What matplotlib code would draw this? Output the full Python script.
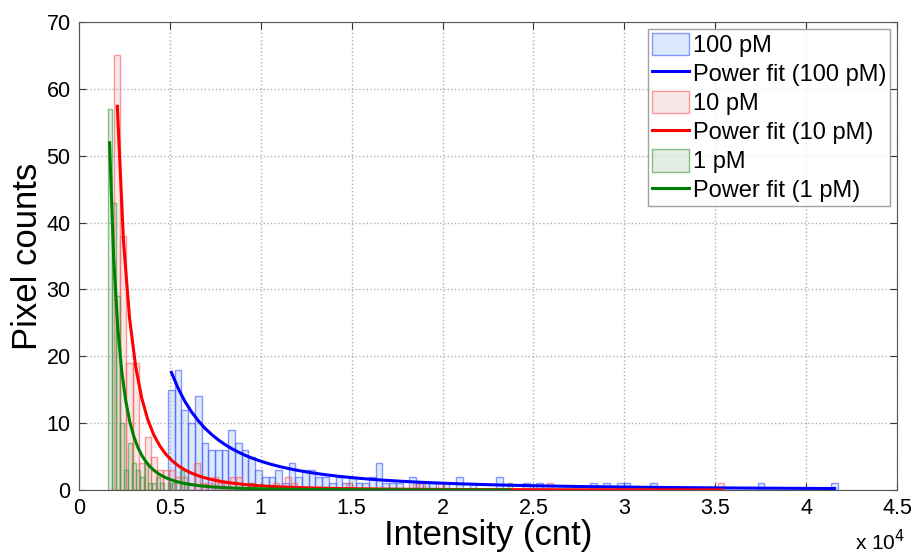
import matplotlib.pyplot as plt
import numpy as np

plt.rcParams['font.family'] = ['Liberation Sans', 'DejaVu Sans']

# Histogram counts (100 equal bins between each sample's min and max intensity)
counts_100pM = [15, 18, 12, 10, 14, 7, 6, 6, 6, 9,
                7, 6, 5, 3, 2, 2, 3, 1, 4, 2,
                3, 3, 2, 2, 1, 2, 1, 2, 1, 1,
                2, 4, 1, 1, 1, 0, 2, 1, 1, 1,
                0, 1, 0, 2, 0, 1, 0, 0, 0, 2,
                0, 0, 0, 1, 0, 1, 0, 0, 0, 0,
                0, 0, 0, 1, 0, 1, 0, 1, 1, 0,
                0, 0, 1, 0, 0, 0, 0, 0, 0, 0,
                0, 0, 0, 0, 0, 0, 0, 0, 1, 0,
                0, 0, 0, 0, 0, 0, 0, 0, 0, 1]
counts_10pM = [65, 38, 19, 19, 4, 8, 5, 3, 3, 3,
               2, 2, 1, 4, 1, 1, 2, 1, 1, 2,
               2, 0, 1, 0, 0, 0, 1, 0, 2, 1,
               0, 0, 0, 0, 0, 0, 0, 0, 1, 0,
               0, 0, 0, 0, 0, 0, 0, 0, 0, 1,
               1, 0, 0, 1, 0, 0, 0, 0, 0, 0,
               0, 0, 0, 0, 0, 0, 0, 0, 0, 0,
               0, 1, 0, 0, 0, 0, 0, 0, 0, 0,
               0, 0, 0, 0, 0, 0, 0, 0, 0, 0,
               0, 0, 0, 0, 0, 0, 0, 0, 0, 1]
counts_1pM = [57, 43, 29, 10, 3, 7, 4, 3, 2, 4,
              1, 1, 2, 1, 0, 1, 1, 0, 3, 1,
              0, 0, 0, 0, 0, 0, 0, 0, 0, 0,
              0, 0, 0, 0, 0, 1, 0, 0, 0, 0,
              0, 0, 0, 0, 0, 0, 0, 0, 0, 0,
              0, 0, 0, 0, 0, 0, 0, 0, 0, 0,
              0, 0, 0, 0, 0, 0, 0, 0, 0, 0,
              0, 0, 0, 0, 0, 0, 0, 0, 0, 0,
              0, 0, 0, 0, 0, 0, 0, 0, 0, 0,
              0, 0, 0, 0, 0, 0, 0, 0, 0, 1]

# Intensity range (min, max) of each sample, in counts
range_100pM = (4900, 41750)
range_10pM = (1940, 35500)
range_1pM = (1570, 23800)

# Power fit y = a * x^b for each sample
fit_100pM = (9.0e8, -2.08)
fit_10pM = (2.5e11, -2.9)
fit_1pM = (1.09e12, -3.2)

labels = ['100 pM', '10 pM', '1 pM']
x_ticks = [0, 5000, 10000, 15000, 20000, 25000, 30000, 35000, 40000, 45000]
x_tick_labels = ['0', '0.5', '1', '1.5', '2', '2.5', '3', '3.5', '4', '4.5']
y_ticks = [0, 10, 20, 30, 40, 50, 60, 70]

series = [
    (counts_100pM, range_100pM, fit_100pM, (0.55, 0.70, 0.95, 0.30), (0.25, 0.35, 1.0, 0.6), 'blue'),
    (counts_10pM, range_10pM, fit_10pM, (0.85, 0.55, 0.55, 0.20), (1.0, 0.35, 0.35, 0.6), 'red'),
    (counts_1pM, range_1pM, fit_1pM, (0.45, 0.65, 0.45, 0.20), (0.25, 0.6, 0.25, 0.6), 'green'),
]

fig = plt.figure(figsize=(9.22, 5.54), dpi=100)
ax = fig.add_axes((79 / 922, 64 / 554, 818 / 922, 468 / 554))

handles = []
for (counts, (lo, hi), (a, b), face, edge, line_color), label in zip(series, labels):
    counts = np.array(counts)
    edges = np.linspace(lo, hi, len(counts) + 1)
    centers = (edges[:-1] + edges[1:]) / 2
    width = edges[1] - edges[0]
    keep = counts > 0
    bars = ax.bar(centers[keep], counts[keep], width=width, facecolor=face,
                  edgecolor=edge, linewidth=1, label=label)
    line, = ax.plot(centers, a * centers ** b, color=line_color, lw=2.2,
                    label=f'Power fit ({label})')
    handles += [bars, line]

ax.set_xlim(0, 45000)
ax.set_ylim(0, 70)
ax.set_xticks(x_ticks)
ax.set_xticklabels(x_tick_labels)
ax.set_yticks(y_ticks)
ax.tick_params(direction='in', length=5, top=True, right=True, labelsize=15.5,
               colors='#333333', labelcolor='black', pad=6)
for spine in ax.spines.values():
    spine.set_color('#555555')
ax.grid(True, linestyle=':', color='#b0b0b0', linewidth=1)
ax.set_axisbelow(True)

ax.set_xlabel('Intensity (cnt)', fontsize=25, labelpad=0)
ax.set_ylabel('Pixel counts', fontsize=25, labelpad=2)
ax.text(1.01, -0.128, r'x 10$^{4}$', transform=ax.transAxes, ha='right',
        va='baseline', fontsize=15)

leg = ax.legend(handles=handles, loc='upper right', fontsize=17, frameon=True,
                fancybox=False, borderpad=0.15, labelspacing=0.2, handlelength=1.6,
                handleheight=1.1, handletextpad=0.15, borderaxespad=0.3)
leg.get_frame().set_edgecolor('#888888')
leg.get_frame().set_linewidth(1)

fig.savefig('out.png', dpi=100)
